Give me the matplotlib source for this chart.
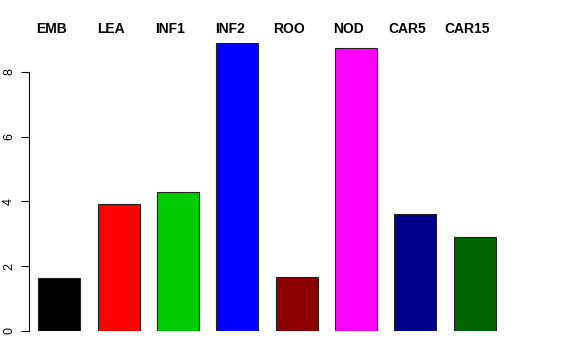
import matplotlib
matplotlib.use("Agg")
import matplotlib.pyplot as plt

categories = ["EMB", "LEA", "INF1", "INF2", "ROO", "NOD", "CAR5", "CAR15"]
values = [1.63, 3.92, 4.30, 8.90, 1.68, 8.73, 3.62, 2.91]
colors = ["#000000", "#FF0000", "#00CD00", "#0000FF", "#8B0000", "#FF00FF", "#00008B", "#006400"]
yticks = [0, 2, 4, 6, 8]

plt.rcParams['font.family'] = ['Liberation Sans', 'DejaVu Sans']

W, H = 576, 360
fig = plt.figure(figsize=(W / 100, H / 100), dpi=100)
px_left, px_right, px_bottom, px_top = 29, 505, 331, 40
ax = fig.add_axes([px_left / W, 1 - px_bottom / H, (px_right - px_left) / W, (px_bottom - px_top) / H])

unit_x = 42.4
x0_px = 38.3
xlim = ((px_left - x0_px) / unit_x, (px_right - x0_px) / unit_x)
unit_y = 32.4
ylim = (0, (px_bottom - px_top) / unit_y)

space = 1.4
lefts = [i * space for i in range(len(values))]
ax.bar(lefts, values, width=0.99, align='edge', color=colors, edgecolor='#222222', linewidth=0.8)
ax.set_xlim(*xlim)
ax.set_ylim(*ylim)

for s in ['top', 'right', 'bottom']:
    ax.spines[s].set_visible(False)
ax.spines['left'].set_bounds(0, 8)
ax.spines['left'].set_linewidth(0.8)
ax.set_xticks([])
ax.set_yticks(yticks)
ax.set_yticklabels([str(t) for t in yticks], rotation=90, va='center', fontsize=9)
ax.tick_params(axis='y', length=6, width=0.8, pad=4)

label_y = (px_bottom - 29) / unit_y
for l, c in zip(lefts, categories):
    ax.text(l + 0.5 - 0.19, label_y, c, ha='center', va='center', fontsize=10,
            fontweight='bold', clip_on=False)

fig.savefig("out.png", dpi=100)
